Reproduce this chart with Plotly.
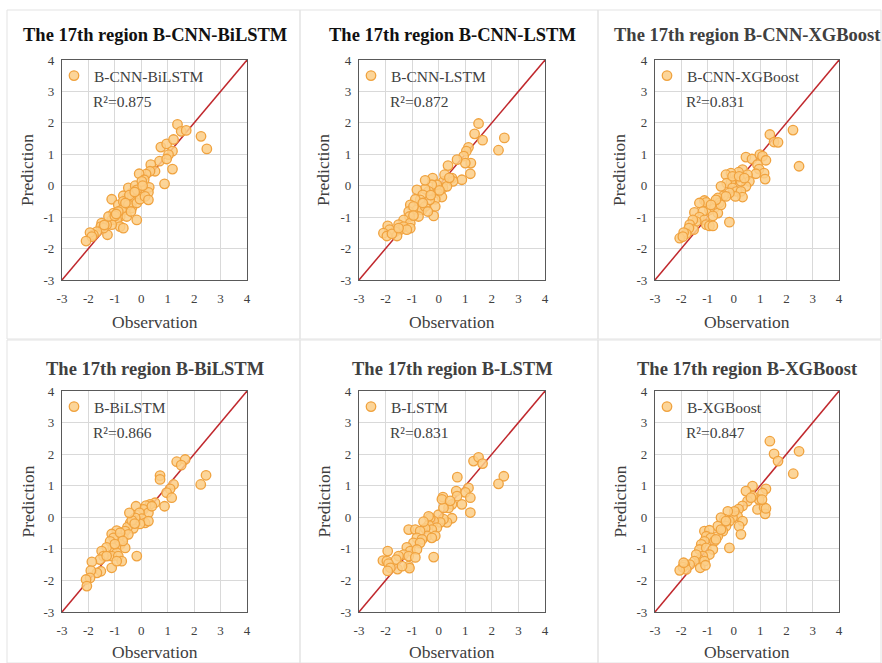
import plotly.graph_objects as go

W, H = 882, 663

model_names = ["B-CNN-BiLSTM", "B-CNN-LSTM", "B-CNN-XGBoost", "B-BiLSTM", "B-LSTM", "B-XGBoost"]
r2_labels = ["R²=0.875", "R²=0.872", "R²=0.831", "R²=0.866", "R²=0.831", "R²=0.847"]
title_prefix = "The 17th region "
x_title = "Observation"
y_title = "Prediction"
tick_vals = [-3, -2, -1, 0, 1, 2, 3, 4]
tick_text = ["-3", "-2", "-1", "0", "1", "2", "3", "4"]

obs_cnn_bilstm = [1.37, 1.51, 1.70, 2.26, 2.48, 0.74, 0.96, 1.22, 1.18, 1.03, 0.69, 0.96, 1.18, 0.88,
                  0.36, 0.52, 0.33, 0.18, -0.08, 0.11, 0.30, 0.00, 0.27, -0.11, -0.30, -0.36, -0.49, -0.23,
                  -0.17, 0.02, -0.55, -0.68, -0.36, -1.12, -0.87, -0.61, -0.80, -0.17, -0.68, -0.49, -0.74,
                  -1.05, -1.12, -0.93, -0.80, -0.68, -1.28, -1.12, -1.31, -1.50, -1.53, -1.43, -1.68, -1.81,
                  -1.94, -1.87, -2.09, -1.24, -0.87, -1.00, -0.55, -0.39, -0.17, -0.05, 0.14, 0.27,
                  -0.45, -0.25, -0.60, -0.95, 0.05, -1.40]
pred_cnn_bilstm = [1.95, 1.73, 1.76, 1.57, 1.17, 1.23, 1.33, 1.47, 1.10, 0.99, 0.78, 0.85, 0.53, 0.06,
                   0.67, 0.46, 0.46, 0.37, 0.38, 0.19, -0.05, -0.07, -0.21, -0.32, -0.47, -0.23, -0.07, 0.00,
                   -0.13, 0.14, -0.39, -0.32, -0.71, -0.43, -0.61, -0.77, -0.98, -1.09, -0.50, -0.61, -0.77,
                   -0.87, -1.09, -1.09, -1.30, -1.35, -1.56, -1.24, -1.24, -1.19, -1.30, -1.35, -1.46, -1.56,
                   -1.49, -1.62, -1.76, -0.98, -0.82, -0.96, -0.98, -0.82, -0.55, -0.43, -0.34, -0.45,
                   -0.30, -0.20, -0.55, -0.90, 0.00, -1.25]

obs_cnn_lstm = [1.50, 1.35, 1.65, 2.47, 2.25, 1.12, 1.04, 0.94, 1.21, 1.00, 1.19, 0.69, 0.35, 0.87,
                0.50, 0.54, 0.18, 0.16, -0.04, 0.31, -0.23, -0.07, 0.12, -0.13, 0.03, -0.26, -0.38, -0.51,
                -0.13, -0.19, -0.82, -0.51, -0.60, -0.70, -0.88, -1.07, -0.82, -0.63, -0.76, -0.51, -0.41,
                -1.13, -1.10, -1.32, -1.07, -1.51, -1.45, -1.32, -1.64, -1.57, -1.07, -1.20, -1.92, -1.85,
                -2.08, -1.95, -1.76, -1.51, -0.95, -0.34, 0.22, -0.30, -0.60, 0.40, -0.95]
pred_cnn_lstm = [1.98, 1.65, 1.45, 1.52, 1.13, 1.22, 1.10, 0.94, 0.72, 0.72, 0.38, 0.83, 0.64, 0.19,
                 0.24, 0.14, 0.14, -0.07, -0.23, -0.02, 0.24, 0.03, -0.36, -0.43, -0.15, 0.03, -0.18, -0.11,
                 -0.66, -0.96, -0.13, 0.17, -0.29, -0.45, -0.43, -0.61, -0.77, -0.77, -0.98, -0.66, -0.82,
                 -0.82, -0.98, -1.09, -1.19, -1.24, -1.40, -1.30, -1.46, -1.60, -1.35, -1.40, -1.28, -1.40,
                 -1.51, -1.60, -1.53, -1.35, -0.66, -0.45, 0.35, -0.30, -0.55, 0.25, -0.95]

obs_cnn_xgb = [1.37, 2.25, 1.53, 1.68, 2.48, 0.46, 0.69, 0.99, 1.09, 1.22, 0.90, 0.96, 1.15, 1.19, 0.84,
               0.33, 0.18, 0.52, 0.59, 0.46, -0.11, 0.11, 0.27, -0.11, -0.30, -0.27, -0.05, 0.11, 0.27,
               0.33, 0.06, -0.49, -0.17, -0.39, -0.61, -0.55, -0.17, -1.12, -1.05, -1.31, -0.93, -0.74,
               -0.61, -0.80, -1.50, -1.18, -1.31, -1.12, -1.43, -1.05, -0.93, -0.80, -1.56, -1.68, -1.53,
               -1.71, -1.81, -1.91, -2.06, -1.94, -0.49, -0.68, -0.30, -0.87, -0.05, 0.20, 0.40]
pred_cnn_xgb = [1.63, 1.77, 1.39, 1.38, 0.62, 0.91, 0.85, 0.99, 0.94, 0.81, 0.67, 0.53, 0.40, 0.21, 0.38,
                0.51, 0.43, 0.35, 0.14, -0.02, 0.40, 0.24, 0.14, 0.11, 0.35, 0.08, -0.07, -0.18, -0.18,
                -0.36, -0.34, -0.02, -0.23, -0.32, -0.39, -0.55, -1.16, -0.47, -0.53, -0.55, -0.77, -0.71,
                -0.87, -0.96, -0.85, -0.82, -1.00, -1.09, -1.14, -1.24, -1.28, -1.28, -1.09, -1.24, -1.40,
                -1.35, -1.53, -1.49, -1.67, -1.62, -0.61, -0.45, -0.34, -0.61, 0.30, 0.30, 0.24]

obs_bilstm = [1.34, 1.66, 1.51, 2.45, 2.25, 0.71, 0.71, 1.22, 1.09, 0.96, 1.15, 0.88, 0.52, 0.33, 0.18,
              0.08, -0.20, 0.27, -0.07, 0.02, 0.14, 0.27, -0.05, -0.23, -0.42, -0.30, -0.52, -0.61, -0.68,
              -0.49, -0.17, -0.93, -1.12, -0.87, -1.05, -1.18, -0.80, -0.61, -1.08, -1.31, -0.93, -1.12,
              -0.87, -0.74, -1.50, -1.43, -1.56, -1.12, -0.93, -1.87, -1.53, -1.68, -1.91, -1.94, -2.09,
              -2.06, -1.31, -0.80, -0.36, -0.45, -0.70, -1.00, 0.40, -0.25]
pred_bilstm = [1.76, 1.83, 1.65, 1.33, 1.04, 1.32, 1.20, 1.04, 0.90, 0.78, 0.62, 0.35, 0.46, 0.41, 0.37,
               0.25, 0.35, 0.14, 0.14, -0.04, -0.18, -0.12, -0.21, -0.02, -0.18, -0.35, -0.31, -0.44, -0.65,
               -0.54, -1.23, -0.42, -0.53, -0.65, -0.65, -0.76, -0.86, -0.97, -0.97, -0.95, -1.13, -1.23,
               -1.23, -1.39, -1.07, -1.23, -1.34, -1.60, -1.39, -1.41, -1.71, -1.76, -1.69, -1.92, -1.97,
               -2.18, -1.23, -0.49, -0.10, 0.14, -0.75, -0.85, 0.35, -0.20]

obs_lstm = [1.31, 1.50, 1.65, 2.45, 2.25, 0.70, 1.12, 1.00, 1.19, 0.87, 1.19, 0.66, 0.69, 0.50, 0.37,
            0.16, 0.50, 0.31, 0.18, -0.01, 0.06, -0.19, -0.07, -0.32, -0.38, -0.26, -0.51, -0.44, -0.13,
            -0.19, -1.13, -0.88, -0.70, -0.82, -0.63, -0.95, -0.70, -1.20, -1.07, -0.82, -1.32, -1.13,
            -0.88, -1.51, -1.60, -1.13, -1.10, -1.55, -1.38, -1.92, -2.10, -1.95, -1.89, -1.82, -1.92,
            -0.38, -0.57, 0.18, -0.26, 0.12, 0.43]
pred_lstm = [1.78, 1.90, 1.70, 1.30, 1.06, 1.27, 0.93, 0.79, 0.62, 0.41, 0.15, 0.83, 0.67, 0.41, 0.30,
             0.64, -0.03, -0.16, -0.06, 0.08, -0.16, -0.12, -0.33, -0.02, -0.25, -0.39, -0.35, -0.59, -0.59,
             -1.26, -0.39, -0.39, -0.44, -0.65, -0.70, -0.81, -0.81, -0.95, -1.07, -1.02, -1.18, -1.23,
             -1.27, -1.23, -1.34, -1.55, -1.61, -1.64, -1.55, -1.07, -1.37, -1.39, -1.47, -1.60, -1.70,
             0.03, -0.14, 0.30, -0.65, 0.57, 0.52]

obs_xgb = [1.37, 1.53, 1.68, 2.48, 2.26, 0.71, 1.22, 1.09, 0.96, 0.90, 1.15, 1.19, 1.22, 1.07, 0.71,
           0.52, 0.33, 0.18, 0.46, 0.65, 0.14, -0.05, 0.33, 0.20, 0.02, -0.23, -0.17, -0.36, -0.49, -0.30,
           -0.61, 0.27, -0.17, -0.42, -0.61, -1.12, -0.93, -1.05, -0.87, -0.74, -1.12, -1.24, -1.31, -1.05,
           -0.80, -0.93, -1.18, -1.31, -1.12, -1.43, -1.50, -1.68, -1.28, -1.08, -1.87, -1.94, -1.81, -2.06,
           -1.91, -0.68, -0.49, -0.30]
pred_xgb = [2.41, 2.01, 1.78, 2.09, 1.38, 0.99, 0.90, 0.77, 0.56, 0.25, 0.31, 0.11, 0.28, 0.56, 0.67,
            0.51, 0.36, 0.26, 0.83, 0.62, 0.04, -0.01, -0.12, -0.28, 0.19, 0.19, -0.12, -0.06, -0.01, -0.28,
            -0.28, -0.54, -0.97, -0.44, -0.60, -0.44, -0.41, -0.60, -0.65, -0.76, -0.76, -0.86, -1.02, -0.97,
            -1.02, -1.18, -1.23, -1.34, -1.39, -1.18, -1.39, -1.50, -1.60, -1.52, -1.50, -1.58, -1.65, -1.68,
            -1.44, -0.70, -0.39, -0.12]

obs_all = [obs_cnn_bilstm, obs_cnn_lstm, obs_cnn_xgb, obs_bilstm, obs_lstm, obs_xgb]
pred_all = [pred_cnn_bilstm, pred_cnn_lstm, pred_cnn_xgb, pred_bilstm, pred_lstm, pred_xgb]

# pixel layout of plot areas
col_px = [(62, 247), (359, 545), (655, 839)]
row_px = [(60, 280), (391, 612)]
title_y_px = [35, 369]
xtitle_y_px = [322, 652]
ytitle_x_px = [27, 323, 619]
title_colors = ["#111111", "#111111", "#404040", "#404040", "#404040", "#404040"]

SERIF = "Liberation Serif"
fig = go.Figure()
layout_axes = {}
annotations = []
shapes = []

# panel frames
panel_x = [(7, 300), (300, 598), (598, 881)]
panel_y = [(10, 339), (340, 663)]
for r in range(2):
    for c in range(3):
        x0, x1 = panel_x[c]
        y0, y1 = panel_y[r]
        shapes.append(dict(type="rect", xref="paper", yref="paper",
                           x0=x0 / W, x1=x1 / W, y0=1 - y1 / H, y1=1 - y0 / H,
                           line=dict(color="#e3e3e3", width=1), layer="below"))

for i in range(6):
    r, c = divmod(i, 3)
    n = i + 1
    xa = "x" if n == 1 else f"x{n}"
    ya = "y" if n == 1 else f"y{n}"
    xd = [col_px[c][0] / W, col_px[c][1] / W]
    yd = [1 - row_px[r][1] / H, 1 - row_px[r][0] / H]
    leg = "legend" if n == 1 else f"legend{n}"

    fig.add_trace(go.Scatter(x=[-3, 4], y=[-3, 4], mode="lines",
                             line=dict(color="#c0282d", width=1.5),
                             showlegend=False, hoverinfo="skip", xaxis=xa, yaxis=ya))
    fig.add_trace(go.Scatter(x=obs_all[i], y=pred_all[i], mode="markers", name=model_names[i],
                             marker=dict(size=9.5, color="rgba(252,206,135,0.85)",
                                         line=dict(color="#f0a23e", width=1.3)),
                             xaxis=xa, yaxis=ya, legend=leg))

    axkw = dict(range=[-3, 4], tickvals=tick_vals, ticktext=tick_text, showgrid=True,
                gridcolor="#d9d9d9", gridwidth=1,
                showline=True, linecolor="#595959", linewidth=1.2, mirror=True, zeroline=False,
                ticks="", tickfont=dict(family=SERIF, size=13, color="#404040"))
    layout_axes[("xaxis" if n == 1 else f"xaxis{n}")] = dict(axkw, domain=xd, anchor=ya, ticklabelstandoff=6)
    layout_axes[("yaxis" if n == 1 else f"yaxis{n}")] = dict(axkw, domain=yd, anchor=xa, ticklabelstandoff=4)

    layout_axes[leg] = dict(x=(col_px[c][0] - 8) / W, y=1 - (row_px[r][0] - 1) / H,
                            xanchor="left", yanchor="top", bgcolor="rgba(0,0,0,0)",
                            font=dict(family=SERIF, size=15.5, color="#404040"))

    annotations.append(dict(text=f"<b>{title_prefix}{model_names[i]}</b>", xref="paper", yref="paper",
                            x=(col_px[c][0] + col_px[c][1]) / 2 / W, y=1 - title_y_px[r] / H,
                            xanchor="center", yanchor="middle", showarrow=False,
                            font=dict(family=SERIF, size=18.5, color=title_colors[i])))
    annotations.append(dict(text=r2_labels[i], xref="paper", yref="paper",
                            x=(col_px[c][0] + 29) / W, y=1 - (row_px[r][0] + 41) / H,
                            xanchor="left", yanchor="middle", showarrow=False,
                            font=dict(family=SERIF, size=15.5, color="#404040")))
    annotations.append(dict(text=x_title, xref="paper", yref="paper",
                            x=(col_px[c][0] + col_px[c][1]) / 2 / W, y=1 - xtitle_y_px[r] / H,
                            xanchor="center", yanchor="middle", showarrow=False,
                            font=dict(family=SERIF, size=17.5, color="#404040")))
    annotations.append(dict(text=y_title, xref="paper", yref="paper", textangle=-90,
                            x=ytitle_x_px[c] / W, y=1 - (row_px[r][0] + row_px[r][1]) / 2 / H,
                            xanchor="center", yanchor="middle", showarrow=False,
                            font=dict(family=SERIF, size=17.5, color="#404040")))

fig.update_layout(width=W, height=H, margin=dict(l=0, r=0, t=0, b=0, autoexpand=False),
                  paper_bgcolor="white", plot_bgcolor="white",
                  annotations=annotations, shapes=shapes, **layout_axes)
fig.write_html("out.html", config={"displayModeBar": False},
               post_script="document.body.style.margin='0px';")
